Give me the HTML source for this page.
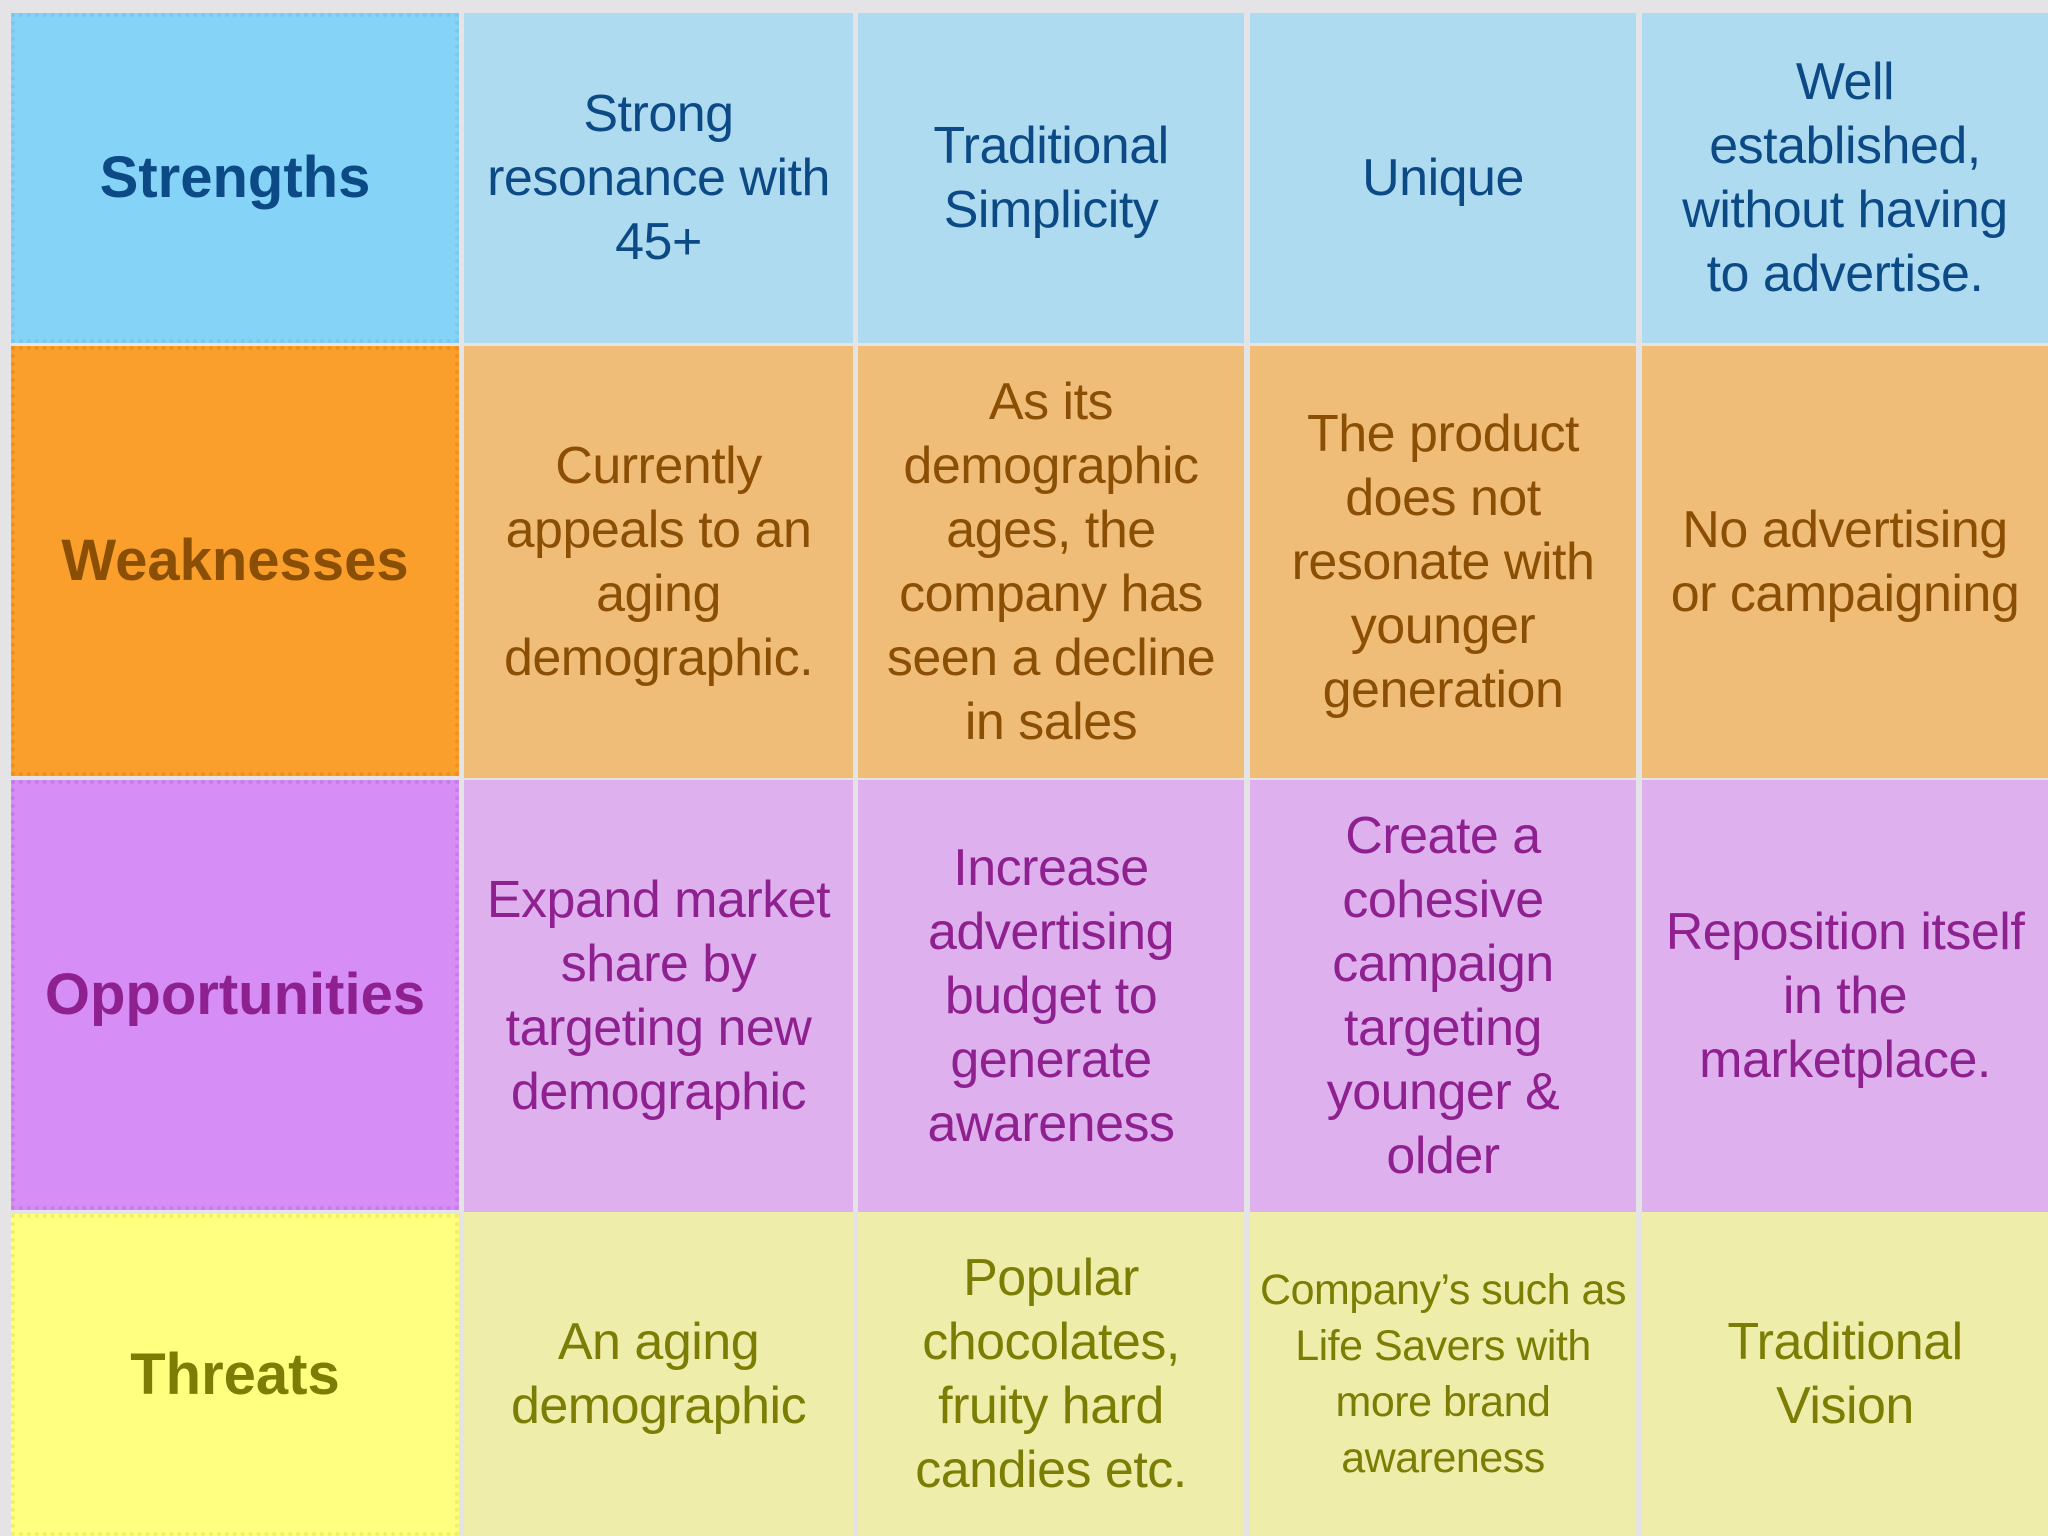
<!DOCTYPE html>
<html><head><meta charset="utf-8"><style>
body{margin:0;width:2048px;height:1536px;background:#e4e4e6;position:relative;overflow:hidden;font-family:"Liberation Sans",sans-serif}
.c{position:absolute;display:flex;align-items:center;justify-content:center;text-align:center;box-sizing:border-box;font-size:52px;line-height:64px;letter-spacing:-0.5px;white-space:nowrap}
.h{font-weight:bold;font-size:58px;letter-spacing:0}
.s{color:#0c4a86}.w{color:#8a4f05}.o{color:#8f208f}.t{color:#7b7d05}
.hs{background:#86d3f8;border:4px dotted #7cc6f0}.hw{background:#fb9f2c;border:4px dotted #f28f1c}.ho{background:#d68df5;border:4px dotted #c87ce8}.ht{background:#ffff80;border:4px dotted #f0f060}
.bs{background:#afdbf0}.bw{background:#f0bd78}.bo{background:#deb0ee}.bt{background:#eeeeaa}
</style></head><body>
<div class="c h s hs" style="left:11px;top:13px;width:448px;height:330px">Strengths</div>
<div class="c s bs" style="left:464px;top:13px;width:389px;height:330px">Strong<br>resonance with<br>45+</div>
<div class="c s bs" style="left:858px;top:13px;width:386px;height:330px">Traditional<br>Simplicity</div>
<div class="c s bs" style="left:1250px;top:13px;width:386px;height:330px">Unique</div>
<div class="c s bs" style="left:1642px;top:13px;width:406px;height:330px">Well<br>established,<br>without having<br>to advertise.</div>

<div class="c h w hw" style="left:11px;top:346px;width:448px;height:430px">Weaknesses</div>
<div class="c w bw" style="left:464px;top:346px;width:389px;height:432px">Currently<br>appeals to an<br>aging<br>demographic.</div>
<div class="c w bw" style="left:858px;top:346px;width:386px;height:432px">As its<br>demographic<br>ages, the<br>company has<br>seen a decline<br>in sales</div>
<div class="c w bw" style="left:1250px;top:346px;width:386px;height:432px">The product<br>does not<br>resonate with<br>younger<br>generation</div>
<div class="c w bw" style="left:1642px;top:346px;width:406px;height:432px">No advertising<br>or campaigning</div>

<div class="c h o ho" style="left:11px;top:780px;width:448px;height:430px">Opportunities</div>
<div class="c o bo" style="left:464px;top:780px;width:389px;height:432px">Expand market<br>share by<br>targeting new<br>demographic</div>
<div class="c o bo" style="left:858px;top:780px;width:386px;height:432px">Increase<br>advertising<br>budget to<br>generate<br>awareness</div>
<div class="c o bo" style="left:1250px;top:780px;width:386px;height:432px">Create a<br>cohesive<br>campaign<br>targeting<br>younger &amp;<br>older</div>
<div class="c o bo" style="left:1642px;top:780px;width:406px;height:432px">Reposition itself<br>in the<br>marketplace.</div>

<div class="c h t ht" style="left:11px;top:1214px;width:448px;height:322px">Threats</div>
<div class="c t bt" style="left:464px;top:1212px;width:389px;height:324px">An aging<br>demographic</div>
<div class="c t bt" style="left:858px;top:1212px;width:386px;height:324px">Popular<br>chocolates,<br>fruity hard<br>candies etc.</div>
<div class="c t bt" style="left:1250px;top:1212px;width:386px;height:324px;font-size:43px;line-height:56px">Company’s such as<br>Life Savers with<br>more brand<br>awareness</div>
<div class="c t bt" style="left:1642px;top:1212px;width:406px;height:324px">Traditional<br>Vision</div>
</body></html>
